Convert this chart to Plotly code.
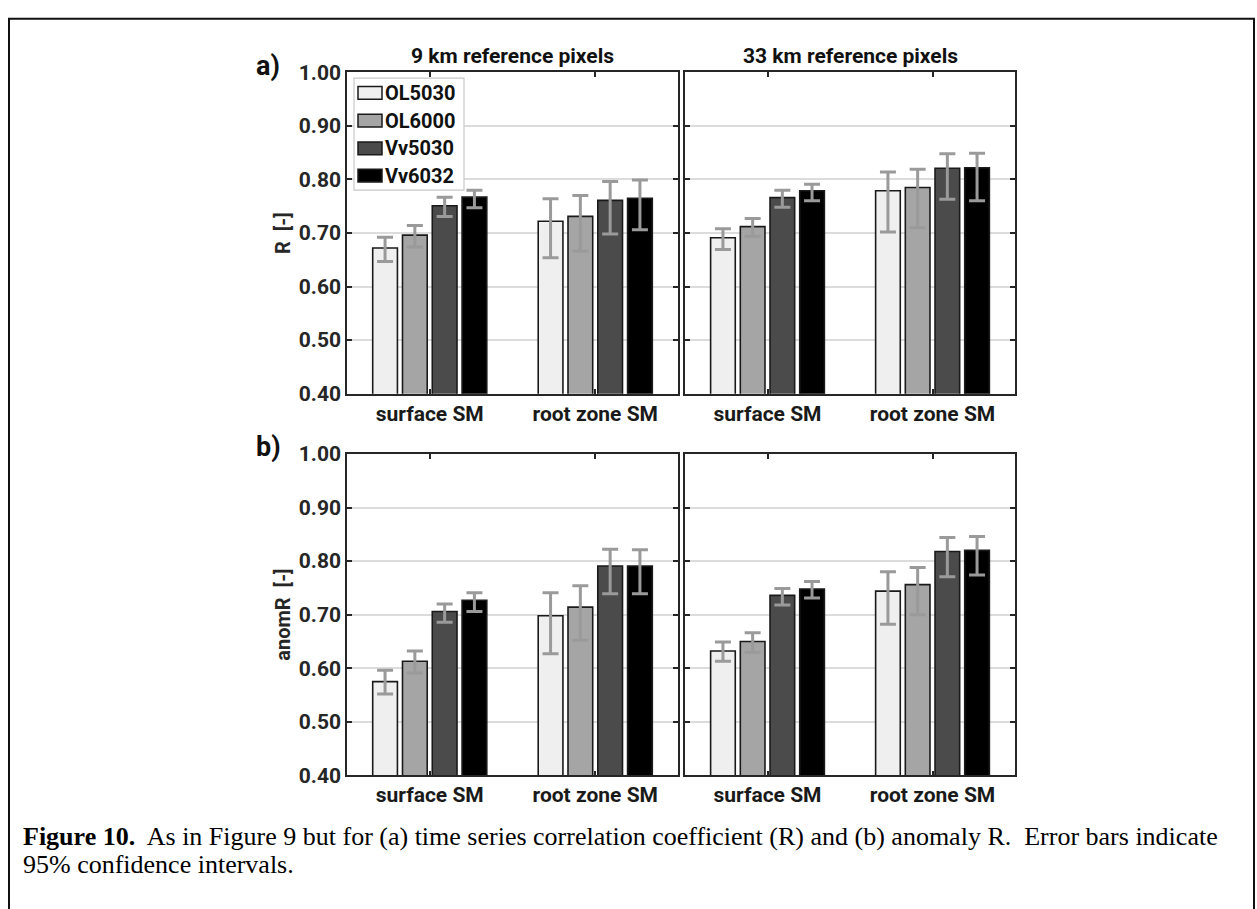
import plotly.graph_objects as go

W, H = 1257, 909

categories = ["surface SM", "root zone SM"]
series = ["OL5030", "OL6000", "Vv5030", "Vv6032"]
colors = ["#efefef", "#a5a5a5", "#4b4b4b", "#000000"]
panel_titles = ["9 km reference pixels", "33 km reference pixels"]
row_titles = ["R  [-]", "anomR  [-]"]
row_tags = ["a)", "b)"]
yticks = [0.40, 0.50, 0.60, 0.70, 0.80, 0.90, 1.00]

# a) R, 9 km  (per series: [surface, root zone])
r9_val = [[0.672, 0.722], [0.696, 0.731], [0.751, 0.761], [0.767, 0.765]]
r9_lo = [[0.647, 0.654], [0.674, 0.666], [0.731, 0.698], [0.747, 0.706]]
r9_hi = [[0.692, 0.764], [0.714, 0.770], [0.767, 0.796], [0.780, 0.799]]

# a) R, 33 km
r33_val = [[0.691, 0.779], [0.712, 0.785], [0.766, 0.821], [0.779, 0.822]]
r33_lo = [[0.669, 0.702], [0.694, 0.710], [0.748, 0.763], [0.760, 0.760]]
r33_hi = [[0.708, 0.814], [0.727, 0.819], [0.780, 0.848], [0.791, 0.849]]

# b) anomR, 9 km
a9_val = [[0.575, 0.698], [0.613, 0.714], [0.706, 0.791], [0.727, 0.791]]
a9_lo = [[0.552, 0.627], [0.591, 0.652], [0.686, 0.739], [0.706, 0.739]]
a9_hi = [[0.596, 0.741], [0.632, 0.754], [0.720, 0.822], [0.741, 0.821]]

# b) anomR, 33 km
a33_val = [[0.632, 0.744], [0.650, 0.756], [0.736, 0.818], [0.748, 0.820]]
a33_lo = [[0.613, 0.682], [0.630, 0.700], [0.718, 0.771], [0.731, 0.774]]
a33_hi = [[0.649, 0.780], [0.666, 0.788], [0.749, 0.844], [0.762, 0.846]]

caption_bold = "Figure 10."
caption_line1 = "  As in Figure 9 but for (a) time series correlation coefficient (R) and (b) anomaly R.  Error bars indicate"
caption_line2 = "95% confidence intervals."


def px(x):
    return x / W


def py(y):
    return 1 - y / H


FONT = "Roboto"
fig = go.Figure()

panels = [
    (1, 1, r9_val, r9_lo, r9_hi),
    (1, 2, r33_val, r33_lo, r33_hi),
    (2, 1, a9_val, a9_lo, a9_hi),
    (2, 2, a33_val, a33_lo, a33_hi),
]

xdom = [(px(347), px(678)), (px(685), px(1015))]
ydom = [(py(392), py(62)), (py(784), py(454))]

layout_axes = {}
for idx, (r, c, val, lo, hi) in enumerate(panels):
    n = idx + 1
    xname = "x" if n == 1 else f"x{n}"
    yname = "y" if n == 1 else f"y{n}"
    for s, name in enumerate(series):
        v = val[s]
        fig.add_trace(go.Bar(
            x=categories, y=v, name=name,
            xaxis=xname, yaxis=yname,
            offsetgroup=str(s),
            marker=dict(color=colors[s], line=dict(color="#1a1a1a", width=1.6)),
            error_y=dict(
                type="data", symmetric=False,
                array=[hi[s][k] - v[k] for k in range(len(v))],
                arrayminus=[v[k] - lo[s][k] for k in range(len(v))],
                color="#9a9a9a", thickness=3, width=8,
            ),
            showlegend=False,
        ))
    kx = "xaxis" if n == 1 else f"xaxis{n}"
    ky = "yaxis" if n == 1 else f"yaxis{n}"
    layout_axes[kx] = dict(
        domain=list(xdom[c - 1]), anchor=yname,
        range=[-0.5, 1.5], showline=True, mirror="ticks",
        linecolor="#262626", linewidth=1.5,
        ticks="inside", ticklen=5, tickcolor="#262626", tickwidth=1.5,
        showgrid=False, zeroline=False,
        tickfont=dict(family=FONT, size=21, color="#1a1a1a", weight="bold"),
        fixedrange=True,
    )
    layout_axes[ky] = dict(
        domain=list(ydom[r - 1]), anchor=xname,
        range=[0.4, 1.0], tickvals=yticks, tickformat=".2f",
        showticklabels=(c == 1),
        showline=True, mirror="ticks", linecolor="#262626", linewidth=1.5,
        ticks="inside", ticklen=5, tickcolor="#262626", tickwidth=1.5,
        showgrid=True, gridcolor="#dcdcdc", gridwidth=2, zeroline=False,
        tickfont=dict(family=FONT, size=21, color="#262626", weight="bold"),
        fixedrange=True,
    )

annotations = []
# column titles
for c, t in enumerate(panel_titles):
    annotations.append(dict(
        text=t, x=(xdom[c][0] + xdom[c][1]) / 2, y=py(45), xref="paper", yref="paper",
        xanchor="center", yanchor="middle", showarrow=False,
        font=dict(family=FONT, size=21, color="#111111", weight="bold"),
    ))
# row tags and y titles
for r in range(2):
    annotations.append(dict(
        text=row_tags[r], x=px(268), y=ydom[r][1] + 7 / H, xref="paper", yref="paper",
        xanchor="center", yanchor="middle", showarrow=False,
        font=dict(family=FONT, size=27, color="#111111", weight="bold"),
    ))
    annotations.append(dict(
        text=row_titles[r], x=px(283), y=(ydom[r][0] + ydom[r][1]) / 2,
        xref="paper", yref="paper", textangle=-90,
        xanchor="center", yanchor="middle", showarrow=False,
        font=dict(family=FONT, size=20, color="#262626", weight="bold"),
    ))

# custom legend in first panel
shapes = []
shapes.append(dict(type="rect", xref="paper", yref="paper",
                   x0=px(354), x1=px(464), y0=py(183), y1=py(68),
                   line=dict(color="#c8c8c8", width=1.2), fillcolor="white", layer="above"))
leg_y = [83, 111.5, 140, 168]
for s, name in enumerate(series):
    shapes.append(dict(type="rect", xref="paper", yref="paper",
                       x0=px(358), x1=px(382), y0=py(leg_y[s] + 6.5), y1=py(leg_y[s] - 6.5),
                       line=dict(color="#1a1a1a", width=1.5), fillcolor=colors[s], layer="above"))
    annotations.append(dict(
        text=name, x=px(383), y=py(leg_y[s]), xref="paper", yref="paper",
        xanchor="left", yanchor="middle", showarrow=False,
        font=dict(family=FONT, size=20, color="#111111", weight="bold"),
    ))

# outer border
shapes.append(dict(type="rect", xref="paper", yref="paper",
                   x0=px(9), x1=px(1254), y0=-0.02, y1=py(7),
                   line=dict(color="#111111", width=2), fillcolor="rgba(0,0,0,0)", layer="above"))

# caption
annotations.append(dict(
    text=f"<b>{caption_bold}</b>{caption_line1}", x=px(21), y=py(847),
    xref="paper", yref="paper", xanchor="left", yanchor="middle", showarrow=False,
    font=dict(family="Liberation Serif", size=26, color="#000000"),
))
annotations.append(dict(
    text=caption_line2, x=px(21), y=py(876),
    xref="paper", yref="paper", xanchor="left", yanchor="middle", showarrow=False,
    font=dict(family="Liberation Serif", size=26, color="#000000"),
))

fig.update_layout(
    width=W, height=H, autosize=False,
    margin=dict(l=0, r=0, t=0, b=0),
    paper_bgcolor="white", plot_bgcolor="white",
    barmode="group", bargap=0.28, bargroupgap=0.17,
    showlegend=False,
    annotations=annotations, shapes=shapes,
    **layout_axes,
)

fig.write_html("out.html", config={"displayModeBar": False},
               post_script="document.body.style.margin='0';document.body.style.overflow='hidden';")
